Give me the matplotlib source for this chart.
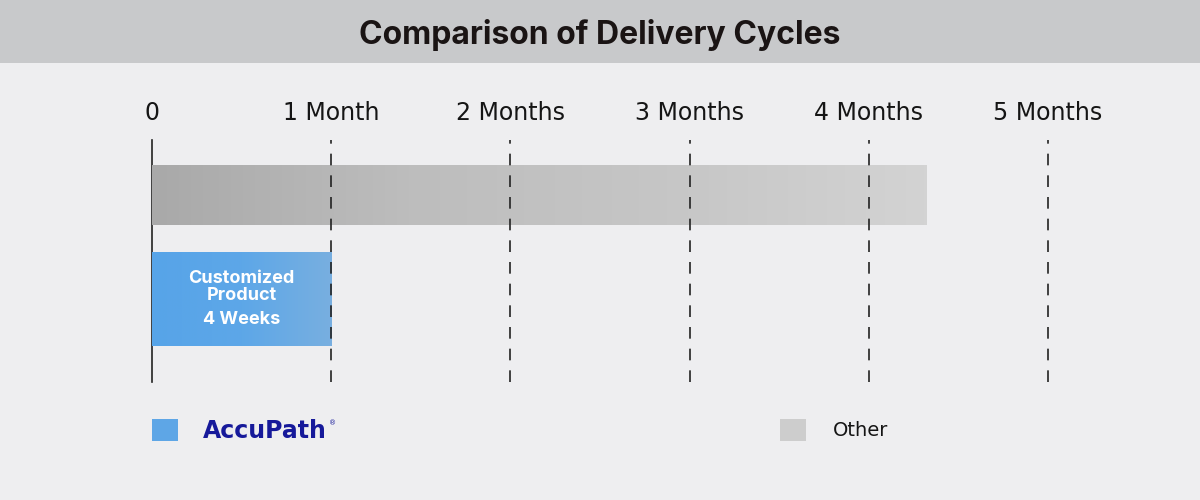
import numpy as np
import matplotlib.pyplot as plt
from matplotlib.colors import LinearSegmentedColormap
from matplotlib.patches import Rectangle

# data
month_ticks = [0, 1, 2, 3, 4, 5]
tick_labels = ["0", "1 Month", "2 Months", "3 Months", "4 Months", "5 Months"]
series = ["Other", "AccuPath"]
durations = [4.32, 1.0]          # months
bar_note = "Customized\nProduct"
bar_value = "4 Weeks"

W, H = 1200, 500
fig = plt.figure(figsize=(12, 5), dpi=100)
fig.patch.set_facecolor("#eeeef0")
plt.rcParams["font.family"] = ["DejaVu Sans"]

# title band
band = fig.add_axes([0, 1 - 63 / H, 1, 63 / H])
band.set_facecolor("#c8c9cb")
band.set_xticks([]); band.set_yticks([])
for s in band.spines.values():
    s.set_visible(False)
fig.text(0.5, 1 - 35 / H, "Comparison of Delivery Cycles", ha="center", va="center",
         fontsize=23, fontweight="bold", color="#1a1414", family="Inter")

# main axes: pixel 152 -> 0 months, 1048 -> 5 months; vertical 140..382 px
x0, x1 = 152, 1048
y_top, y_bot = 140, 382
ax = fig.add_axes([x0 / W, 1 - y_bot / H, (x1 - x0) / W, (y_bot - y_top) / H])
ax.set_facecolor("none")
for s in ax.spines.values():
    s.set_visible(False)
ax.set_yticks([])
ax.xaxis.tick_top()
ax.set_xticks(month_ticks)
ax.set_xticklabels(tick_labels, fontsize=17, color="#151515")
ax.tick_params(axis="x", length=0, pad=11)

# grid lines
ax.axvline(0, color="#222222", lw=1.2, zorder=1, clip_on=False)
for m in month_ticks[1:]:
    ax.axvline(m, color="#222222", lw=1.2, ls=(0, (7, 6)), zorder=3, clip_on=False)

heights = [60 / 104, 94 / 104]
cmaps = [LinearSegmentedColormap.from_list("g", ["#a9a9a9", "#bdbdbd", "#c6c6c6", "#d3d3d3"]),
         LinearSegmentedColormap.from_list("b", ["#57a4e8", "#5da7e8", "#78afe0"])]
grad = np.linspace(0, 1, 256).reshape(1, -1)
for i, (d, h, cm) in enumerate(zip(durations, heights, cmaps)):
    rect = Rectangle((0, i - h / 2), d, h, facecolor="none", edgecolor="none")
    ax.add_patch(rect)
    im = ax.imshow(grad, cmap=cm, aspect="auto", extent=(0, d, i + h / 2, i - h / 2),
                   zorder=2)
    im.set_clip_path(rect)
ax.set_xlim(0, 5)
ax.set_ylim((y_bot - 195) / 104, (y_top - 195) / 104)

ax.text(durations[1] / 2, 1 - 12 / 104, bar_note, ha="center", va="center", color="white",
        fontsize=13, fontweight="bold", linespacing=1.05, zorder=4, family="Inter")
ax.text(durations[1] / 2, 1 + 21 / 104, bar_value, ha="center", va="center", color="white",
        fontsize=13, fontweight="bold", zorder=4, family="Inter")

# legend
fig.patches.append(Rectangle((152 / W, 1 - 441 / H), 26 / W, 22 / H,
                             transform=fig.transFigure, facecolor="#5ea6e6",
                             edgecolor="none"))
fig.text(203 / W, 1 - 431 / H, "AccuPath", ha="left", va="center", fontsize=17,
         fontweight="bold", color="#16199a")
fig.text(329 / W, 1 - 423 / H, "®", ha="left", va="center", fontsize=5, color="#16199a")
fig.patches.append(Rectangle((780 / W, 1 - 441 / H), 26 / W, 22 / H,
                             transform=fig.transFigure, facecolor="#cdcdcd",
                             edgecolor="none"))
fig.text(833 / W, 1 - 431 / H, "Other", ha="left", va="center", fontsize=14,
         color="#151515")

fig.savefig("out.png", dpi=100, facecolor=fig.get_facecolor())
